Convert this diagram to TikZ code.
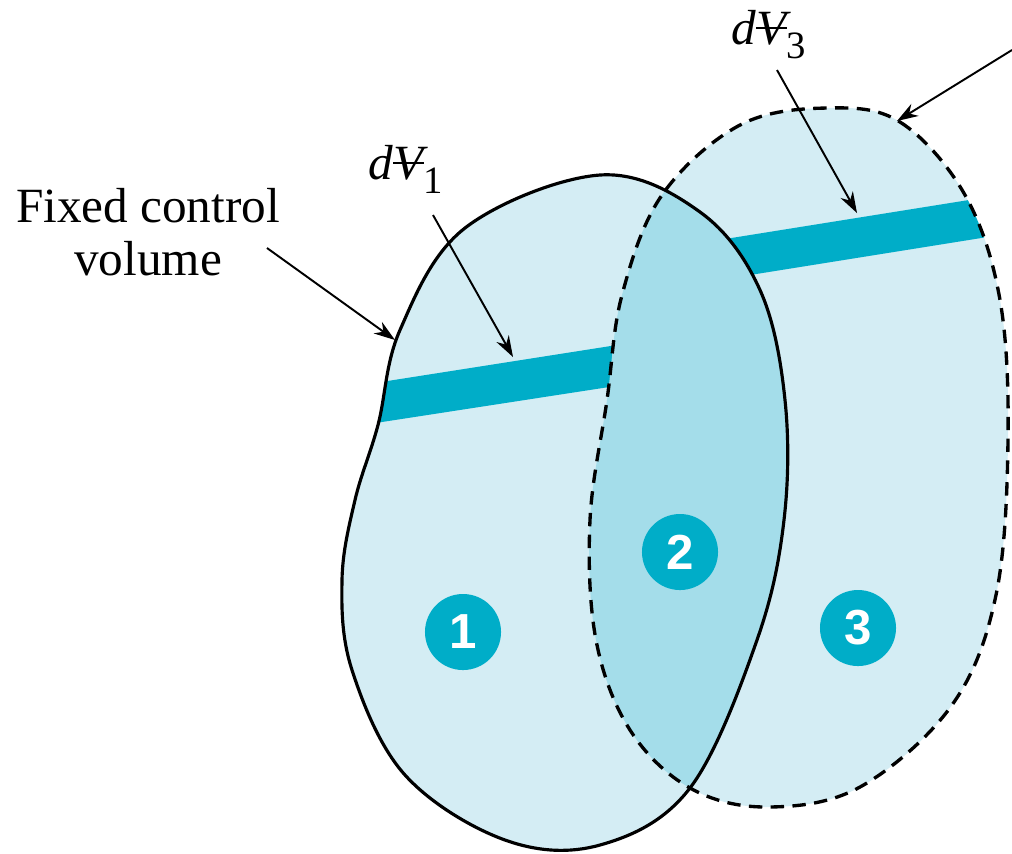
\documentclass[tikz,border=0pt]{standalone}
\usepackage{fontspec}
\setmainfont{Liberation Serif}
\newfontfamily\lblfont{Liberation Serif}
\newfontfamily\numfont{Liberation Sans}
\usetikzlibrary{arrows.meta}
\definecolor{cvlight}{RGB}{212,237,244}
\definecolor{cvdark}{RGB}{164,221,234}
\definecolor{stripblue}{RGB}{0,173,200}
% volume symbol: italic V with a bar through it
\newcommand{\volV}{\ooalign{\itshape V\cr\hidewidth\raisebox{0.3em}{\rule{0.62em}{0.05em}}\hidewidth\cr}}
\newcommand{\dvol}[1]{{\itshape d}\volV\raisebox{-0.3em}{\fontsize{11}{11}\selectfont #1}}
\begin{document}
\begin{tikzpicture}[x=0.01cm, y=-0.01cm,
  every node/.style={font=\lblfont\fontsize{14}{15.2}\selectfont},
  cvline/.style={line width=0.9pt},
  sysline/.style={line width=0.95pt, dash pattern=on 3.8pt off 2.4pt},
  leader/.style={line width=0.55pt, -{Stealth[length=6pt,width=4pt]}},
  numdot/.style={circle, fill=stripblue, text=white, inner sep=0pt, minimum size=0.76cm,
    font=\numfont\bfseries\fontsize{14}{14}\selectfont}]
  \useasboundingbox (0,0) rectangle (1012,853);
  \def\fixedcv{plot[smooth cycle, tension=0.6] coordinates {(600,175) (700,212) (760,290) (785,400) (784,520) (757,640) (690,788) (600,845) (505,840) (405,775) (352,670) (342,580) (355,500) (378,425) (400,330) (465,228)}}
  \def\movingsys{plot[smooth cycle, tension=0.6] coordinates {(827,108) (900,122) (965,195) (1000,300) (1008,440) (996,595) (952,705) (860,787) (767,807) (690,788) (630,730) (596,640) (590,520) (607,400) (622,295) (662,195) (740,125)}}
  % region fills
  \fill[cvlight] \fixedcv;
  \fill[cvlight] \movingsys;
  % volume elements
  \begin{scope}
    \clip \fixedcv;
    \fill[stripblue] (330,390) -- (700,332) -- (700,373) -- (330,430) -- cycle;
  \end{scope}
  \begin{scope}
    \clip \movingsys;
    \fill[stripblue] (700,243) -- (1050,187) -- (1050,227) -- (700,283) -- cycle;
  \end{scope}
  % overlap (region 2)
  \begin{scope}
    \clip \fixedcv;
    \fill[cvdark] \movingsys;
  \end{scope}
  % outlines
  \draw[cvline] \fixedcv;
  \draw[sysline] \movingsys;
  % region numbers
  \node[numdot] (n1) at (463,632) {1};
  \node[numdot] (n2) at (680,552) {2};
  \node[numdot] (n3) at (858,628) {3};
  % labels
  \node[align=center] (fcvlbl) at (148,232) {Fixed control\\volume};
  \node[anchor=base west, inner sep=0pt] (dv1lbl) at (368,179) {\dvol{1}};
  \node[anchor=base west, inner sep=0pt] (dv3lbl) at (731,44) {\dvol{3}};
  % leader ends
  \coordinate (fcvtail) at (267,248);
  \coordinate (fcvtip) at (395,340);
  \coordinate (dv1tail) at (433,215);
  \coordinate (dv1tip) at (513,357);
  \coordinate (dv3tail) at (777,70);
  \coordinate (dv3tip) at (857,213);
  \coordinate (systail) at (1012,50);
  \coordinate (systip) at (897,121);
  \draw[leader] (fcvtail) -- (fcvtip);
  \draw[leader] (dv1tail) -- (dv1tip);
  \draw[leader] (dv3tail) -- (dv3tip);
  \draw[leader] (systail) -- (systip);
\end{tikzpicture}
\end{document}
